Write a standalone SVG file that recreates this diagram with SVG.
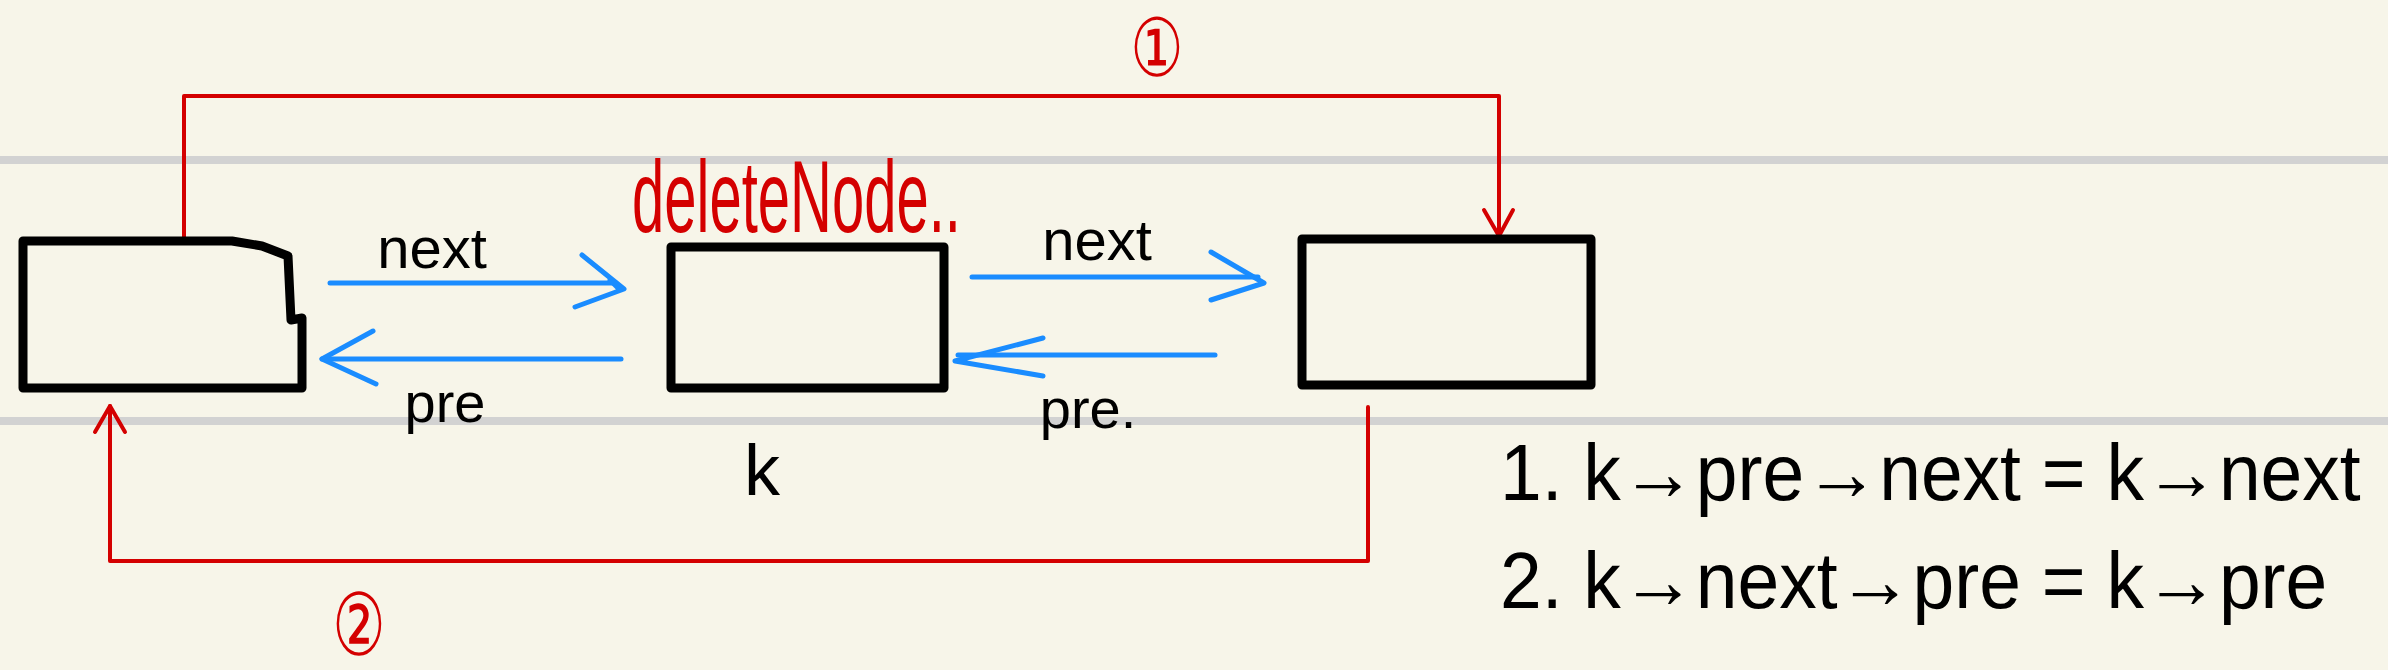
<svg xmlns="http://www.w3.org/2000/svg" width="2388" height="670" viewBox="0 0 2388 670">
<style>
.bg{fill:#F7F5E9}
.rule{stroke:#D2D2D2;stroke-width:8}
.box{fill:none;stroke:#000;stroke-width:9;stroke-linejoin:round;stroke-linecap:round}
.blue{fill:none;stroke:#1A8CFF;stroke-width:5;stroke-linecap:round;stroke-linejoin:round}
.red{fill:none;stroke:#D40000;stroke-width:4;stroke-linecap:round;stroke-linejoin:round}
.lbl{font-family:"Liberation Sans",sans-serif;fill:#000}
.redt{font-family:"Liberation Sans","DejaVu Sans","Noto Sans CJK SC",sans-serif;fill:#D40000}
</style>
<rect class="bg" x="0" y="0" width="2388" height="670"/>
<line class="rule" x1="0" y1="160" x2="2388" y2="160"/>
<line class="rule" x1="0" y1="421" x2="2388" y2="421"/>

<g id="connectors">
  <!-- step 1: prev -> next node -->
  <path class="red" d="M184,238 V96 H1499 V236"/>
  <path class="red" d="M1484,210 L1499,236 L1513,210"/>
  <!-- step 2: next node -> prev -->
  <path class="red" d="M1368,407 V561 H110 V406"/>
  <path class="red" d="M95,432 L110,406 L125,432"/>
  <!-- next arrows -->
  <path class="blue" d="M330,283 H616"/>
  <path class="blue" d="M582,255 L624,289 L575,307 M610,280 L620,290"/>
  <path class="blue" d="M972,277 H1258"/>
  <path class="blue" d="M1211,252 L1264,283 L1211,300"/>
  <!-- pre arrows -->
  <path class="blue" d="M621,359 H322"/>
  <path class="blue" d="M373,331 L322,359 L376,384"/>
  <path class="blue" d="M1215,355 H958"/>
  <path class="blue" d="M1043,338 L955,361 L1043,376"/>
</g>

<g id="node-prev">
  <path class="box" d="M23,241 H232 L262,246 L288,256 L291,320 L302,318 V388 H23 Z"/>
</g>
<g id="node-k">
  <rect class="box" x="671" y="247" width="273" height="141"/>
  <text class="lbl" x="762" y="495" font-size="72" text-anchor="middle">k</text>
</g>
<g id="node-next">
  <rect class="box" x="1302" y="239" width="289" height="146"/>
</g>

<g id="labels">
  <text class="lbl" x="432" y="268" font-size="58" text-anchor="middle">next</text>
  <text class="lbl" x="445" y="422" font-size="56" text-anchor="middle">pre</text>
  <text class="lbl" x="1097" y="260" font-size="58" text-anchor="middle">next</text>
  <text class="lbl" x="1088" y="428" font-size="56" text-anchor="middle">pre.</text>
  <text class="redt" x="632" y="232" font-size="58" transform="translate(0,232) scale(1,1.75) translate(0,-232)">deleteNode..</text>
  <text class="redt" x="1157" y="70" font-size="64" text-anchor="middle" transform="translate(1157,47) scale(0.93,1.26) translate(-1157,-47)">①</text>
  <text class="redt" x="359" y="647" font-size="64" text-anchor="middle" transform="translate(359,624) scale(0.93,1.35) translate(-359,-624)">②</text>
  <text class="lbl" x="1500" y="500" font-size="75" transform="translate(0,500) scale(1,1.07) translate(0,-500)">1. k→pre→next = k→next</text>
  <text class="lbl" x="1500" y="608" font-size="75" transform="translate(0,608) scale(1,1.07) translate(0,-608)">2. k→next→pre = k→pre</text>
</g>
</svg>
